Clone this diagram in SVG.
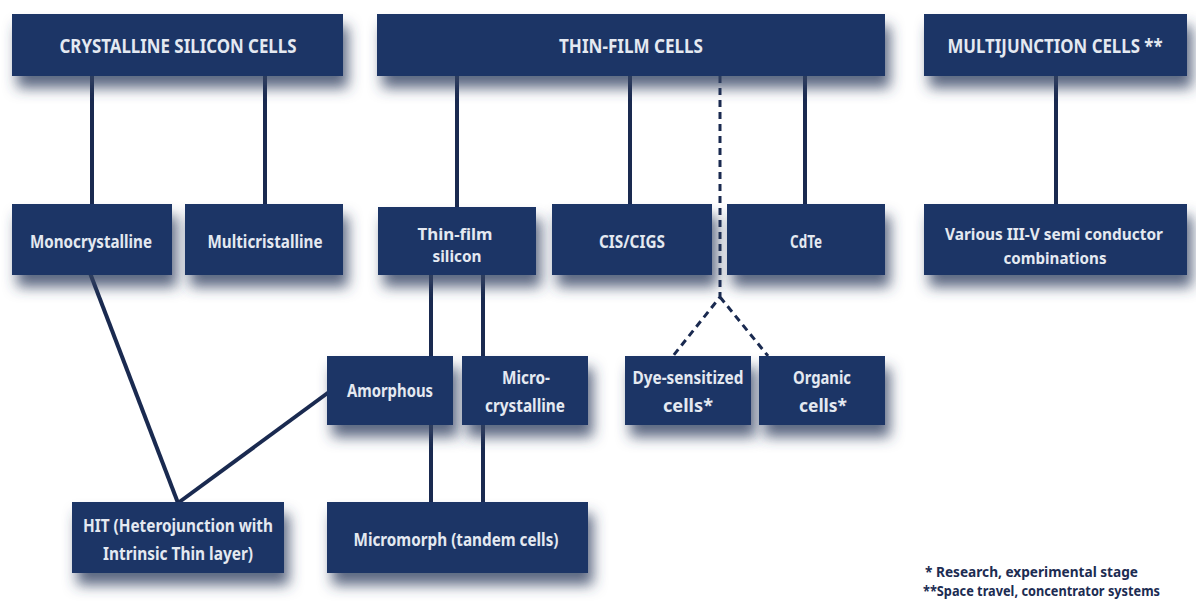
<svg xmlns="http://www.w3.org/2000/svg" width="1196" height="612" viewBox="0 0 1196 612">
<defs>
<filter id="sh" x="-20%" y="-30%" width="150%" height="200%">
<feGaussianBlur in="SourceAlpha" stdDeviation="7"/>
<feOffset dx="5" dy="12" result="b"/>
<feFlood flood-color="#334262" flood-opacity="0.8"/>
<feComposite in2="b" operator="in"/>
<feMerge><feMergeNode/><feMergeNode in="SourceGraphic"/></feMerge>
</filter>
<style>
.box{fill:#1f3666;filter:url(#sh);}
.t{font-family:"Noto Sans","Open Sans","Liberation Sans",sans-serif;font-weight:bold;fill:#e4e9f1;text-anchor:middle;font-size:18px;}
.s{font-size:16px;}
.h{font-size:19px;}
.ln{stroke:#1a2a50;stroke-width:4;fill:none;}
.dash{stroke:#1a2a50;stroke-width:3;fill:none;stroke-dasharray:7 5;}
.fn{font-family:"Noto Sans","Open Sans","Liberation Sans",sans-serif;font-weight:bold;fill:#1c2c52;font-size:14px;}
</style>
</defs>
<rect width="1196" height="612" fill="#ffffff"/>
<g id="connectors">
<line class="ln" x1="92" y1="70" x2="92" y2="206"/>
<line class="ln" x1="265" y1="70" x2="265" y2="206"/>
<line class="ln" x1="457" y1="70" x2="457" y2="209"/>
<line class="ln" x1="630" y1="70" x2="630" y2="206"/>
<line class="ln" x1="805" y1="70" x2="805" y2="206"/>
<line class="ln" x1="1056" y1="70" x2="1056" y2="206"/>
<path class="dash" d="M720 76 L720 297 L673 356 M720 297 L768 356"/>
<line class="ln" x1="431" y1="273" x2="431" y2="358"/>
<line class="ln" x1="431" y1="423" x2="431" y2="504"/>
<line class="ln" x1="483" y1="273" x2="483" y2="358"/>
<line class="ln" x1="483" y1="423" x2="483" y2="504"/>
<line class="ln" x1="90" y1="273" x2="178" y2="503"/>
<line class="ln" x1="329" y1="392" x2="178" y2="503"/>
</g>
<g id="n-crystalline"><rect class="box" x="12" y="14" width="331" height="62"/><text class="t h" x="178" y="53" textLength="237" lengthAdjust="spacingAndGlyphs">CRYSTALLINE SILICON CELLS</text></g>
<g id="n-thinfilm"><rect class="box" x="377" y="14" width="508" height="62"/><text class="t h" x="631" y="53" textLength="144" lengthAdjust="spacingAndGlyphs">THIN-FILM CELLS</text></g>
<g id="n-multijunction"><rect class="box" x="924" y="14" width="263" height="62"/><text class="t h" x="1055" y="53" textLength="215" lengthAdjust="spacingAndGlyphs">MULTIJUNCTION CELLS **</text></g>
<g id="n-mono"><rect class="box" x="12" y="204" width="160" height="71"/><text class="t" x="91" y="248" textLength="122" lengthAdjust="spacingAndGlyphs">Monocrystalline</text></g>
<g id="n-multi"><rect class="box" x="185" y="204" width="158" height="71"/><text class="t" x="265" y="248" textLength="115" lengthAdjust="spacingAndGlyphs">Multicristalline</text></g>
<g id="n-tfsi"><rect class="box" x="378" y="207" width="158" height="68"/><text class="t s" x="455" y="240" textLength="75" lengthAdjust="spacingAndGlyphs">Thin-film</text><text class="t s" x="457" y="262" textLength="49" lengthAdjust="spacingAndGlyphs">silicon</text></g>
<g id="n-cis"><rect class="box" x="552" y="204" width="160" height="71"/><text class="t" x="632" y="248" textLength="66" lengthAdjust="spacingAndGlyphs">CIS/CIGS</text></g>
<g id="n-cdte"><rect class="box" x="727" y="204" width="158" height="71"/><text class="t" x="806" y="248" textLength="32" lengthAdjust="spacingAndGlyphs">CdTe</text></g>
<g id="n-various"><rect class="box" x="924" y="204" width="263" height="71"/><text class="t s" x="1054" y="240" textLength="218" lengthAdjust="spacingAndGlyphs">Various III-V semi conductor</text><text class="t s" x="1055" y="264" textLength="103" lengthAdjust="spacingAndGlyphs">combinations</text></g>
<g id="n-amorphous"><rect class="box" x="327" y="356" width="126" height="69"/><text class="t" x="390" y="397" textLength="86" lengthAdjust="spacingAndGlyphs">Amorphous</text></g>
<g id="n-micro"><rect class="box" x="462" y="356" width="126" height="69"/><text class="t" x="526" y="384" textLength="48" lengthAdjust="spacingAndGlyphs">Micro-</text><text class="t" x="525" y="412" textLength="80" lengthAdjust="spacingAndGlyphs">crystalline</text></g>
<g id="n-dye"><rect class="box" x="625" y="356" width="126" height="69"/><text class="t" x="688" y="384" textLength="111" lengthAdjust="spacingAndGlyphs">Dye-sensitized</text><text class="t" x="688" y="412" textLength="50" lengthAdjust="spacingAndGlyphs">cells*</text></g>
<g id="n-organic"><rect class="box" x="759" y="356" width="126" height="69"/><text class="t" x="822" y="384" textLength="58" lengthAdjust="spacingAndGlyphs">Organic</text><text class="t" x="823" y="412" textLength="48" lengthAdjust="spacingAndGlyphs">cells*</text></g>
<g id="n-hit"><rect class="box" x="72" y="502" width="212" height="71"/><text class="t" x="178" y="532" textLength="190" lengthAdjust="spacingAndGlyphs">HIT (Heterojunction with</text><text class="t" x="178" y="560" textLength="150" lengthAdjust="spacingAndGlyphs">Intrinsic Thin layer)</text></g>
<g id="n-micromorph"><rect class="box" x="327" y="502" width="261" height="71"/><text class="t" x="456" y="546" textLength="205" lengthAdjust="spacingAndGlyphs">Micromorph (tandem cells)</text></g>
<g id="notes">
<text class="fn" x="925" y="577" textLength="213" lengthAdjust="spacingAndGlyphs">*  Research, experimental stage</text>
<text class="fn" x="923" y="596" textLength="237" lengthAdjust="spacingAndGlyphs">**Space travel, concentrator systems</text>
</g>
</svg>
